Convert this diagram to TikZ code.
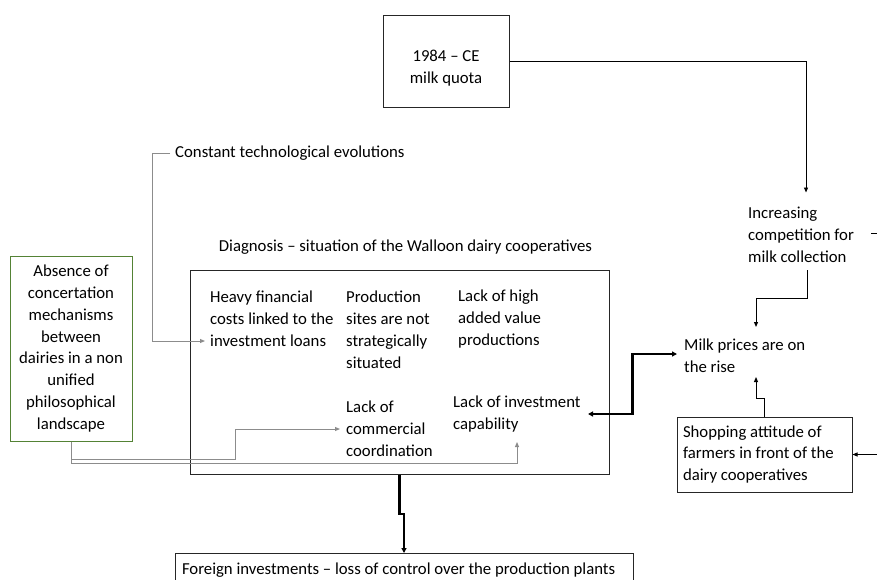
\documentclass[tikz,border=0pt]{standalone}
\usepackage{fontspec}
\setmainfont{Carlito}
\usetikzlibrary{calc,arrows.meta}
\definecolor{boxgreen}{HTML}{548235}
\definecolor{linkgray}{HTML}{8C8C8C}
\begin{document}
\begin{tikzpicture}[x=1pt,y=-1pt,
  every node/.style={font=\fontsize{16.75}{21.86}\selectfont},
  txt/.style={inner sep=0pt,align=left,anchor=west},
  frame/.style={draw=black!85,line width=1pt,inner sep=0pt},
  thin/.style={draw=black,line width=0.9pt,-{Triangle[length=5pt,width=4pt]}},
  graylink/.style={draw=linkgray,line width=0.9pt,-{Triangle[length=5pt,width=4pt]}},
  bold/.style={draw=black,line width=2.2pt,-{Triangle[length=5pt,width=5pt]}},
  boldboth/.style={draw=black,line width=2.2pt,{Triangle[length=5pt,width=5pt]}-{Triangle[length=5pt,width=5pt]}}]
\useasboundingbox (0,0) rectangle (877,579);

% top box: milk quota
\node[frame,minimum width=126pt,minimum height=92pt] (quota) at (446,61) {};
\node[inner sep=0pt,align=center] (quotatext) at (446,68) {1984 -- CE\\milk quota};

% free-standing statements
\node[txt] (tech) at (175,153) {Constant technological evolutions};
\node[txt] (inc) at (748,234.5) {Increasing\\competition for\\milk collection};
\node[txt] (milk) at (684,355.5) {Milk prices are on\\the rise};

% diagnosis frame and its contents
\node[inner sep=0pt] (diagtitle) at (405.5,247) {Diagnosis -- situation of the Walloon dairy cooperatives};
\node[frame,minimum width=419pt,minimum height=204pt] (diag) at (399.5,372) {};
\node[txt] (heavy) at (210,319) {Heavy financial\\costs linked to the\\investment loans};
\node[txt] (prod) at (346,329.5) {Production\\sites are not\\strategically\\situated};
\node[txt] (high) at (458,319) {Lack of high\\added value\\productions};
\node[txt] (comm) at (346,429) {Lack of\\commercial\\coordination};
\node[txt] (cap) at (453,414) {Lack of investment\\capability};

% side boxes
\node[draw=boxgreen,line width=1pt,inner sep=0pt,minimum width=122pt,minimum height=185pt,align=center] (green) at (71,348.5)
  {Absence of\\concertation\\mechanisms\\between\\dairies in a non\\unified\\philosophical\\landscape};
\node[frame,minimum width=175pt,minimum height=75pt,text width=163pt,inner xsep=6pt,align=flush left] (shop) at (764.5,454.5)
  {Shopping attitude of\\farmers in front of the\\dairy cooperatives};
\node[frame,minimum width=458pt,minimum height=34pt,text width=444pt,inner xsep=7pt,align=flush left,anchor=north] (foreign) at (404,553)
  {Foreign investments -- loss of control over the production plants};

% links entering from beyond the right edge
\coordinate (edgeA) at (877,233);
\coordinate (edgeB) at (877,454.5);

% connectors
\draw[thin] (quota.east) -| ($(inc.west)+(58,-42)$);
\draw[line width=0.9pt] (edgeA) -- ($(inc.west)+(123,-1.5)$);
\draw[thin] ($(inc.west)+(59,35.5)$) -- ++(0,28) -| ($(milk.west)+(72,-28.5)$);
\draw[thin] (shop.north) -- ++(0,-18) -| ($(milk.west)+(72,21.5)$);
\draw[thin] (edgeB) -- (shop.east);
\draw[boldboth] ($(cap.west)+(135,0)$) -| ($($(cap.west)+(135,0)$)!.5!($(milk.west)+(-7,-1.5)$)$) |- ($(milk.west)+(-7,-1.5)$);
\draw[bold] (diag.south) |- ($(diag.south)!.5!(foreign.north)$) -| (foreign.north);
\draw[graylink] ($(tech.west)+(-5,0)$) -- ++(-18,0) |- ($(heavy.west)+(-5,22)$);
\draw[graylink] (green.south) |- ($(comm.west)+(-111,30)$) |- ($(comm.west)+(-6,0)$);
\draw[graylink] (green.south) |- ($(cap.west)+(64,49)$) -- ($(cap.west)+(64,28)$);
\end{tikzpicture}
\end{document}
